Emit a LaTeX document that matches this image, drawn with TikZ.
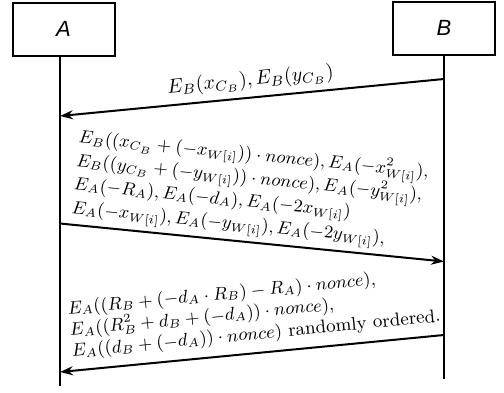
\documentclass[tikz,border=0pt]{standalone}
\usepackage{fontspec}
\newfontfamily\hv{Liberation Sans}
\usetikzlibrary{arrows.meta}
\begin{document}
\begin{tikzpicture}[x=0.5pt,y=-0.5pt,
  actor/.style={draw, line width=1pt, minimum width=51pt, minimum height=26.5pt, inner sep=0pt,
    font=\hv\itshape\fontsize{11}{13}\selectfont},
  life/.style={line width=1pt},
  msg/.style={line width=1pt,-{Stealth[length=6.5pt,width=4.5pt]}},
  lbl/.style={inner sep=0pt, align=left, text depth=0pt}]
\useasboundingbox (0,0) rectangle (504,392);
\node[actor] (A) at (63.5,29) {A};
\node[actor] (B) at (444,28) {B};
\coordinate (Aend) at (60,386);
\coordinate (Bend) at (444,379);
\draw[life] (A.south -| Aend) -- (Aend);
\draw[life] (B.south) -- (Bend);
\coordinate (m1s) at (444,79);
\coordinate (m1e) at (60,116);
\coordinate (m2s) at (60,223.5);
\coordinate (m2e) at (444,261.5);
\coordinate (m3s) at (444,335);
\coordinate (m3e) at (60,372);
\draw[msg] (m1s) -- (m1e);
\draw[msg] (m2s) -- (m2e);
\draw[msg] (m3s) -- (m3e);
\node[lbl, anchor=base, rotate=5.5, font=\fontsize{9.6}{12}\selectfont] (L1) at (251,85.4)
  {$E_B(x_{C_B}), E_B(y_{C_B})$};
\node[lbl, anchor=base west, rotate=-5.65, font=\fontsize{9.2}{11.75}\selectfont] (L2) at (71,213)
  {$E_B((x_{C_B}+(-x_{W[i]}))\cdot nonce), E_A(-x^2_{W[i]}),$\\
   $E_B((y_{C_B}+(-y_{W[i]}))\cdot nonce), E_A(-y^2_{W[i]}),$\\
   $E_A(-R_A), E_A(-d_A), E_A(-2x_{W[i]})$\\
   $E_A(-x_{W[i]}), E_A(-y_{W[i]}), E_A(-2y_{W[i]}),$};
\node[lbl, anchor=base west, rotate=5.5, font=\fontsize{9.25}{10.75}\selectfont] (L3) at (72,357)
  {$E_A((R_B+(-d_A\cdot R_B)-R_A)\cdot nonce),$\\
   $E_A((R_B^2+d_B+(-d_A))\cdot nonce),$\\
   $E_A((d_B+(-d_A))\cdot nonce)$ randomly ordered.};
\end{tikzpicture}
\end{document}
